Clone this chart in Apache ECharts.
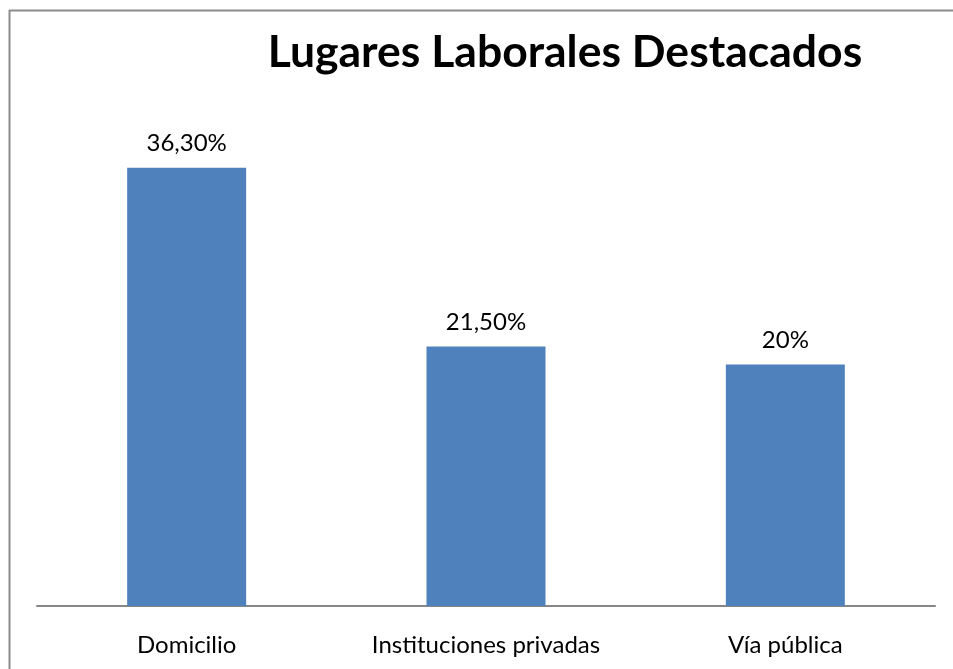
<!DOCTYPE html>
<html><head><meta charset="utf-8">
<script src="https://cdn.jsdelivr.net/npm/echarts@6/dist/echarts.min.js"></script>
<style>html,body{margin:0;padding:0;background:#fff}#c{width:953px;height:669px}</style>
</head><body><div id="c"></div>
<script>
const categories = ['Domicilio', 'Instituciones privadas', 'Vía pública'];
const values = [36.3, 21.5, 20];
const labels = ['36,30%', '21,50%', '20%'];

const chart = echarts.init(document.getElementById('c'));
chart.setOption({
  animation: false,
  title: {
    text: 'Lugares Laborales Destacados',
    left: 560, top: 25, textAlign: 'center',
    textStyle: {fontFamily: 'Lato', fontWeight: 'bold', fontSize: 44.5, color: '#000'}
  },
  graphic: [
    {type: 'line', silent: true, shape: {x1: 9, y1: 10.5, x2: 953, y2: 10.5},
     style: {stroke: '#8c8c8c', lineWidth: 2}},
    {type: 'line', silent: true, shape: {x1: 9.5, y1: 10, x2: 9.5, y2: 669},
     style: {stroke: '#8c8c8c', lineWidth: 2}}
  ],
  grid: {left: 37, right: 18, top: 123, bottom: 63},
  xAxis: {
    type: 'category', data: categories,
    axisLine: {lineStyle: {color: '#868686', width: 2}},
    axisTick: {show: false},
    axisLabel: {fontFamily: 'Lato', fontSize: 24, color: '#000', margin: 27}
  },
  yAxis: {
    type: 'value', min: 0, max: 40, show: false,
    splitLine: {show: false}
  },
  series: [{
    type: 'bar', data: values, barWidth: 119,
    itemStyle: {color: '#4F81BD'},
    label: {
      show: true, position: 'top', distance: 12,
      fontFamily: 'Lato', fontSize: 24, color: '#000',
      formatter: p => labels[p.dataIndex]
    }
  }]
});
</script></body></html>
